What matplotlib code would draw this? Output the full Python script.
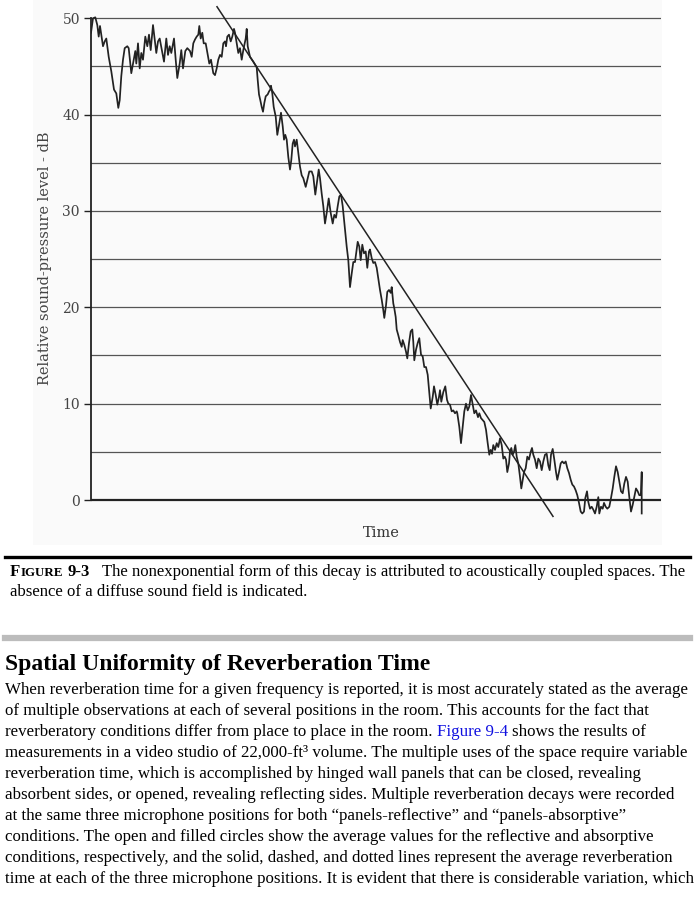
import matplotlib.pyplot as plt
from matplotlib.patches import Rectangle

plt.rcParams['font.family'] = 'serif'
plt.rcParams['font.serif'] = ['Liberation Serif', 'DejaVu Serif']

# decay trace (time in arbitrary units, level in dB)
time = [0, 2, 4.3, 6.3, 7.7, 9, 10.3, 12, 13.7, 15.3, 17.7, 20.3, 23, 25.3, 27.3, 28.7, 30.3, 32,
        33.7, 36.3, 37.7, 40.3, 42.7, 44.3, 45.3, 47, 48.7, 50.3, 52, 54.3, 56.3, 58, 59.7, 62,
        63.7, 65.3, 67, 68.7, 71, 73, 75.3, 77, 78.7, 80.3, 83, 84.7, 86.3, 88.7, 90.3, 92, 94.3,
        96.3, 99, 100.7, 102.3, 104, 105.7, 107.3, 108.3, 109.7, 111.3, 112.7, 114.7, 116.7, 118.3,
        120, 122.3, 124, 125.7, 127.3, 129, 130.7, 132.3, 134, 135, 136.3, 138, 139.7, 141.3, 143,
        144, 145.7, 147.3, 149, 150.7, 152.3, 154.7, 155.7, 156.7, 159, 162.3, 165.7, 166.7, 168,
        169.3, 170.7, 172, 173.3, 174.7, 176.7, 178, 179.3, 180, 181.3, 182.7, 184.7, 186.3, 188.3,
        190, 191.7, 193, 194.3, 195.7, 197.3, 199, 200.3, 201.7, 203, 204, 205.7, 207, 209, 210.7,
        212.3, 214.7, 216.3, 218.3, 220.7, 222.3, 224.3, 226.3, 227.7, 229, 230.7, 232.3, 234,
        235.7, 237.7, 239.7, 241.7, 243.3, 245, 246.7, 248.3, 250, 251.7, 253.7, 255.7, 257.3, 259,
        260.7, 262.3, 264, 265.7, 266.7, 268.3, 269.7, 271.3, 273, 274.7, 276.3, 278, 279, 280.7,
        282.3, 284, 285.7, 287.3, 289, 290.7, 292.3, 293.3, 295, 296.3, 298, 299.7, 300.7, 302.3,
        303.3, 304.7, 305.7, 307.3, 309, 310.7, 311.7, 313.3, 315, 316.3, 318, 319.7, 321.3, 322.3,
        323.3, 325, 326.7, 328.3, 330, 331.7, 333.3, 335, 336.7, 338.3, 339.7, 341.7, 343, 344.7,
        346.3, 348, 349, 350.3, 352.3, 354.3, 356, 357.3, 359, 360.7, 362.3, 364, 365.7, 366.3,
        368.3, 370, 371.7, 373.3, 375, 376.7, 378.3, 380, 381.7, 383.3, 385, 387, 388.3, 390,
        391.7, 393.3, 395, 396.7, 398.3, 399.7, 401, 402.3, 404, 405.7, 407.3, 409, 410.7, 412.3,
        413.7, 415, 416.3, 418, 419, 420.3, 421.7, 423, 424.3, 425.7, 427.3, 429, 430.3, 431.7,
        433, 434.7, 436.3, 438, 439.7, 441, 442.3, 444, 445.7, 447.3, 449, 450.7, 452.3, 454,
        455.7, 457.3, 458.7, 460, 461.7, 463.3, 465, 466.3, 468, 469.7, 471.3, 473, 474.7, 476.3,
        478, 479.7, 481.3, 483, 484.7, 486.3, 488, 489.7, 491.3, 493, 494.3, 496, 497.3, 499,
        500.7, 502.3, 504, 505.7, 507.3, 508.3, 510, 511.7, 513, 514.7, 516.3, 518.3, 520, 521.7,
        523.3, 525, 526.7, 528.3, 530, 531.7, 533.3, 535, 536.7, 538.3, 540, 541.7, 543.3, 545,
        546.7, 548.3, 550, 550.7, 550.7]
level = [48.5, 50.0, 50.1, 49.3, 48.1, 49.2, 48.3, 47.1, 47.6, 47.9, 46.0, 44.5, 42.6, 42.2, 40.7,
         41.5, 44.0, 45.7, 46.9, 47.1, 46.9, 44.3, 45.7, 46.6, 45.3, 47.4, 44.8, 46.4, 45.7, 48.1,
         47.1, 48.3, 46.7, 49.3, 47.8, 46.4, 47.6, 47.9, 46.6, 45.5, 47.9, 46.2, 47.1, 46.4, 47.9,
         45.7, 43.8, 45.3, 46.7, 44.8, 46.6, 46.9, 46.6, 46.0, 47.4, 47.8, 48.1, 48.3, 49.2, 47.9,
         48.5, 47.4, 47.4, 46.2, 45.3, 45.7, 44.3, 44.1, 44.8, 45.7, 46.2, 46.0, 47.4, 47.6, 47.1,
         48.1, 48.3, 47.6, 48.1, 48.9, 48.5, 47.4, 46.4, 46.9, 45.7, 46.7, 47.9, 48.9, 47.1, 46.0,
         45.5, 44.9, 43.6, 42.1, 41.5, 40.8, 40.3, 41.2, 41.9, 42.1, 42.4, 42.6, 43.0, 42.2, 40.8,
         39.8, 37.9, 39.1, 40.2, 38.8, 37.4, 37.9, 37.4, 35.6, 34.3, 35.3, 37.0, 37.4, 36.7, 37.4,
         36.3, 34.6, 33.7, 33.4, 32.5, 33.2, 34.1, 34.1, 33.6, 31.7, 33.2, 34.3, 33.4, 31.8, 30.5,
         28.7, 29.8, 31.3, 29.8, 28.7, 29.6, 29.3, 30.5, 31.5, 31.7, 30.5, 28.4, 26.3, 24.9, 22.1,
         23.5, 24.7, 24.7, 26.0, 26.8, 26.3, 24.9, 26.5, 25.6, 25.8, 24.1, 25.8, 26.0, 25.1, 24.6,
         24.7, 24.1, 23.0, 21.8, 20.8, 19.7, 18.9, 20.2, 21.6, 21.8, 21.5, 22.1, 20.4, 19.9, 19.0,
         17.7, 17.1, 16.4, 15.9, 16.6, 16.1, 15.4, 14.7, 16.3, 17.5, 17.7, 16.4, 14.5, 15.6, 16.3,
         16.8, 15.1, 14.9, 13.8, 13.8, 13.0, 11.1, 9.5, 10.7, 11.8, 10.9, 9.9, 10.7, 11.4, 10.2,
         11.2, 11.8, 10.4, 10.0, 9.9, 9.2, 9.3, 9.0, 9.2, 9.0, 7.6, 5.9, 7.6, 9.2, 10.0, 9.3, 9.7,
         10.9, 9.9, 9.0, 9.3, 8.6, 9.0, 8.5, 8.3, 8.1, 7.3, 5.9, 4.7, 5.2, 4.8, 5.7, 5.2, 5.9, 5.5,
         6.4, 5.7, 4.3, 4.5, 4.2, 2.9, 3.8, 5.0, 5.4, 4.7, 5.0, 5.7, 4.5, 3.8, 2.4, 1.2, 2.1, 2.9,
         3.3, 4.5, 4.2, 5.0, 5.4, 4.7, 4.2, 3.3, 4.3, 4.0, 3.1, 4.0, 4.7, 4.8, 3.6, 3.1, 4.7, 5.3,
         4.2, 2.9, 2.1, 2.9, 3.8, 4.0, 3.8, 4.0, 3.3, 2.8, 2.1, 1.6, 1.4, 1.0, 0.5, -0.3, -1.2,
         -1.4, -1.2, 0.2, 0.9, -0.2, -0.9, -0.7, -1.0, -1.4, -0.7, 0.3, -1.4, -0.7, -0.9, -0.3,
         -0.7, -0.9, -0.7, 0.2, 1.2, 2.4, 3.5, 2.9, 1.9, 0.9, 0.7, 1.7, 2.4, 1.9, 0.3, -1.2, -0.5,
         0.3, 1.2, 0.9, 0.5, 0.5, 2.9, -1.4]

# straight decay line drawn over the trace
fit_time = [126, 462]
fit_level = [51.2, -1.7]

grid_levels = [5, 10, 15, 20, 25, 30, 35, 40, 45, 50]
tick_levels = [0, 10, 20, 30, 40, 50]

caption1 = "The nonexponential form of this decay is attributed to acoustically coupled spaces. The"
caption2 = "absence of a diffuse sound field is indicated."
heading = "Spatial Uniformity of Reverberation Time"
body = [
    [("When reverberation time for a given frequency is reported, it is most accurately stated as the average", 'k')],
    [("of multiple observations at each of several positions in the room. This accounts for the fact that", 'k')],
    [("reverberatory conditions differ from place to place in the room.", 'k'), ("Figure 9-4", '#1010e0'),
     ("shows the results of", 'k')],
    [("measurements in a video studio of 22,000-ft\u00b3 volume. The multiple uses of the space require variable", 'k')],
    [("reverberation time, which is accomplished by hinged wall panels that can be closed, revealing", 'k')],
    [("absorbent sides, or opened, revealing reflecting sides. Multiple reverberation decays were recorded", 'k')],
    [("at the same three microphone positions for both \u201cpanels-reflective\u201d and \u201cpanels-absorptive\u201d", 'k')],
    [("conditions. The open and filled circles show the average values for the reflective and absorptive", 'k')],
    [("conditions, respectively, and the solid, dashed, and dotted lines represent the average reverberation", 'k')],
    [("time at each of the three microphone positions. It is evident that there is considerable variation, which", 'k')],
]

W, H = 695, 900
fig = plt.figure(figsize=(W / 100, H / 100), dpi=100)
fig.patch.set_facecolor('white')

# faint panel behind the chart
fig.patches.append(Rectangle((33 / W, 1 - 545 / H), 629 / W, 545 / H, transform=fig.transFigure,
                             facecolor='#fafafa', edgecolor='none', zorder=-5))

ax = fig.add_axes([91 / W, 1 - 521.2 / H, 570 / W, 516.4 / H])
ax.set_facecolor('none')
ax.set_zorder(2)
ax.set_xlim(0, 570)
ax.set_ylim(-2.2, 51.4)

for g in grid_levels:
    ax.axhline(g, xmin=0, xmax=569 / 570, color='#555555', lw=0.9, zorder=1)
ax.axhline(0, xmin=0, xmax=569 / 570, color='#222222', lw=1.6, zorder=1)

ax.plot(time, level, color='#222222', lw=1.25, zorder=3)
ax.plot(fit_time, fit_level, color='#222222', lw=1.1, zorder=3, clip_on=False)

for s in ['top', 'right', 'bottom']:
    ax.spines[s].set_visible(False)
ax.spines['left'].set_bounds(0, 50)
ax.spines['left'].set_color('#222222')
ax.spines['left'].set_linewidth(1.3)
ax.set_xticks([])
ax.set_yticks(tick_levels)
ax.tick_params(axis='y', length=5, width=1.0, color='#222222', labelsize=11, labelcolor='#444444', pad=3)
for lab in ax.get_yticklabels():
    lab.set_family('DejaVu Serif')
    lab.set_fontsize(10)

fig.text(45 / W, 1 - 258 / H, "Relative sound-pressure level - dB", rotation=90, ha='center', va='center',
         fontsize=10.5, color='#444444', family='DejaVu Serif')
fig.text(381 / W, 1 - 533 / H, "Time", ha='center', va='center', fontsize=10.5, color='#333333',
         family='DejaVu Serif')

# caption and page text
fig.add_artist(plt.Line2D([5 / W, 690 / W], [1 - 557 / H] * 2, transform=fig.transFigure,
                          color='black', lw=2.4))
fig.add_artist(plt.Line2D([5 / W, 690 / W], [1 - 638 / H] * 2, transform=fig.transFigure,
                          color='#bcbcbc', lw=4.5))

renderer = fig.canvas.get_renderer()
BODY = 12.2
CAP = 12.05


def put(x, y, s, **kw):
    t = fig.text(x / W, 1 - y / H, s, ha='left', va='baseline', **kw)
    return x + t.get_window_extent(renderer).width


def space_w(size, weight='normal'):
    a = fig.text(0, 0, "x x", fontsize=size, weight=weight)
    b = fig.text(0, 0, "xx", fontsize=size, weight=weight)
    w = a.get_window_extent(renderer).width - b.get_window_extent(renderer).width
    a.remove()
    b.remove()
    return w


sp = space_w(BODY)
x = put(10, 576, "F", fontsize=CAP, weight='bold')
x = put(x, 576, "IGURE", fontsize=CAP * 0.78, weight='bold')
x = put(x + sp, 576, "9-3", fontsize=CAP, weight='bold')
put(x + 3 * sp, 576, caption1, fontsize=CAP)
put(10, 596, caption2, fontsize=CAP)

put(5, 670, heading, fontsize=17.0, weight='bold')

for i, runs in enumerate(body):
    y = 694 + 21 * i
    x = 5
    for j, (s, c) in enumerate(runs):
        if j > 0:
            x += sp
        x = put(x, y, s, fontsize=BODY, color=c)

fig.savefig('out.png', dpi=100)
